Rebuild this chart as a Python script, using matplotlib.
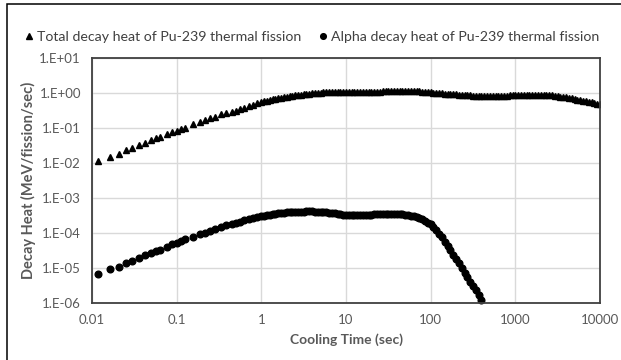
import matplotlib
matplotlib.use("Agg")
import matplotlib.pyplot as plt
from matplotlib.patches import Rectangle

# Cooling times (sec)
times = [0.0117, 0.0162, 0.0207, 0.025, 0.0294, 0.0362, 0.0427, 0.050, 0.057, 0.064,
         0.0775, 0.0885, 0.101, 0.114, 0.127, 0.158, 0.188, 0.215, 0.248, 0.283,
         0.335, 0.383,
         0.447, 0.501, 0.562, 0.631, 0.708, 0.794, 0.891,
         1.0, 1.08, 1.166, 1.259, 1.359, 1.468, 1.585, 1.711, 1.848, 1.995,
         2.154, 2.326, 2.512, 2.712, 2.929, 3.162, 3.415, 3.687, 3.981, 4.299,
         4.642, 5.012, 5.412, 5.843, 6.31, 6.813, 7.356, 7.943, 8.577, 9.261,
         10.0, 10.8, 11.66, 12.59, 13.59, 14.68, 15.85, 17.11, 18.48, 19.95,
         21.54, 23.26, 25.12, 27.12, 29.29, 31.62, 34.15, 36.87, 39.81, 42.99,
         46.42, 50.12, 54.12, 58.43, 63.1, 68.13, 73.56, 79.43, 85.77, 92.61,
         100, 108, 116.6, 125.9, 135.9, 146.8, 158.5, 171.1, 184.8, 199.5,
         215.4, 232.6, 251.2, 271.2, 292.9, 316.2, 341.5, 368.7, 398.1, 429.9,
         464.2, 501.2, 541.2, 584.3, 631, 681.3, 735.6, 794.3, 857.7, 926.1,
         1000, 1080, 1166, 1259, 1359, 1468, 1585, 1711, 1848, 1995,
         2154, 2326, 2512, 2712, 2929, 3162, 3415, 3687, 3981, 4299,
         4642, 5012, 5412, 5843, 6310, 6813, 7356, 7943, 8577, 9261,
         10000]

# Total decay heat (MeV/fission/sec)
total_heat = [0.0110, 0.0143, 0.018, 0.0226, 0.0258, 0.032, 0.038, 0.0437, 0.050, 0.055,
              0.065, 0.074, 0.080, 0.092, 0.100, 0.128, 0.146, 0.163, 0.186, 0.206,
              0.240, 0.263,
              0.29, 0.31, 0.34, 0.37, 0.41, 0.45, 0.50,
              0.54, 0.565, 0.59, 0.62, 0.645, 0.67, 0.70, 0.72, 0.745, 0.78,
              0.80, 0.82, 0.84, 0.86, 0.88, 0.90, 0.92, 0.94, 0.96, 0.975,
              0.99, 1.01, 1.02, 1.03, 1.04, 1.045, 1.05, 1.06, 1.065, 1.07,
              1.07, 1.075, 1.08, 1.08, 1.08, 1.08, 1.08, 1.08, 1.08, 1.08,
              1.08, 1.08, 1.085, 1.09, 1.095, 1.10, 1.105, 1.11, 1.115, 1.12,
              1.125, 1.13, 1.13, 1.125, 1.12, 1.11, 1.10, 1.08, 1.065, 1.05,
              1.03, 1.01, 0.995, 0.98, 0.965, 0.95, 0.94, 0.925, 0.91, 0.90,
              0.885, 0.87, 0.86, 0.85, 0.84, 0.83, 0.82, 0.815, 0.81, 0.805,
              0.80, 0.80, 0.80, 0.805, 0.81, 0.815, 0.82, 0.83, 0.84, 0.85,
              0.86, 0.87, 0.875, 0.88, 0.885, 0.89, 0.89, 0.89, 0.885, 0.88,
              0.875, 0.865, 0.85, 0.835, 0.82, 0.80, 0.78, 0.76, 0.74, 0.72,
              0.69, 0.66, 0.64, 0.615, 0.59, 0.57, 0.55, 0.53, 0.51, 0.49,
              0.47]

# Alpha decay heat (MeV/fission/sec)
alpha_heat = [6.6e-6, 9.2e-6, 1.1e-5, 1.39e-5, 1.62e-5, 1.93e-5, 2.3e-5, 2.7e-5, 3.0e-5, 3.36e-5,
              4.0e-5, 4.7e-5, 5.2e-5, 5.9e-5, 6.6e-5, 7.7e-5, 9.2e-5, 1.02e-4, 1.17e-4, 1.28e-4,
              1.43e-4, 1.63e-4,
              1.8e-4, 1.95e-4, 2.1e-4, 2.3e-4, 2.5e-4, 2.7e-4, 2.85e-4,
              3.0e-4, 3.1e-4, 3.2e-4, 3.3e-4, 3.4e-4, 3.5e-4, 3.6e-4, 3.7e-4, 3.78e-4, 3.85e-4,
              3.9e-4, 3.95e-4, 4.0e-4, 4.03e-4, 4.06e-4, 4.08e-4, 4.1e-4, 4.1e-4, 4.1e-4, 4.08e-4,
              4.05e-4, 4.0e-4, 3.95e-4, 3.88e-4, 3.8e-4, 3.7e-4, 3.6e-4, 3.5e-4, 3.42e-4, 3.35e-4,
              3.3e-4, 3.26e-4, 3.23e-4, 3.2e-4, 3.2e-4, 3.2e-4, 3.22e-4, 3.25e-4, 3.3e-4, 3.35e-4,
              3.4e-4, 3.45e-4, 3.5e-4, 3.53e-4, 3.55e-4, 3.56e-4, 3.56e-4, 3.55e-4, 3.52e-4, 3.48e-4,
              3.42e-4, 3.35e-4, 3.25e-4, 3.12e-4, 3.0e-4, 2.85e-4, 2.65e-4, 2.45e-4, 2.22e-4, 1.98e-4,
              1.75e-4, 1.5e-4, 1.25e-4, 9.5e-5, 7.5e-5, 5.6e-5, 4.2e-5, 3.2e-5, 2.4e-5, 1.8e-5,
              1.35e-5, 1.0e-5, 7.3e-6, 5.5e-6, 4.1e-6, 3.0e-6, 2.3e-6, 1.7e-6, 1.2e-6]
alpha_times = times[:len(alpha_heat)]

x_ticks = [0.01, 0.1, 1, 10, 100, 1000, 10000]
x_labels = ["0.01", "0.1", "1", "10", "100", "1000", "10000"]
y_ticks = [1e-6, 1e-5, 1e-4, 1e-3, 1e-2, 1e-1, 1e0, 1e1]
y_labels = ["1.E-06", "1.E-05", "1.E-04", "1.E-03", "1.E-02", "1.E-01", "1.E+00", "1.E+01"]

plt.rcParams['font.family'] = ['Lato', 'DejaVu Sans']

fig = plt.figure(figsize=(6.21, 3.60), dpi=100)
ax = fig.add_axes([92/621, 1 - 303/360, (600 - 92)/621, (303 - 57.7)/360])

ax.plot(times, total_heat, linestyle='none', marker='^', ms=4.8, color='black',
        label='Total decay heat of Pu-239 thermal fission', clip_on=True)
ax.plot(alpha_times, alpha_heat, linestyle='none', marker='o', ms=4.8, color='black',
        label='Alpha decay heat of Pu-239 thermal fission', clip_on=False)

ax.set_xscale('log')
ax.set_yscale('log')
ax.set_xlim(0.01, 10000)
ax.set_ylim(1e-6, 10)
ax.set_xticks(x_ticks)
ax.set_xticklabels(x_labels)
ax.set_yticks(y_ticks)
ax.set_yticklabels(y_labels)
ax.minorticks_off()
ax.tick_params(axis='both', length=0, labelsize=9.5, labelcolor='#595959', pad=8)
ax.grid(True, color='#d9d9d9', linewidth=1)
ax.set_axisbelow(True)
for s in ax.spines.values():
    s.set_color('#404040')
    s.set_linewidth(1.3)

ax.set_xlabel('Cooling Time (sec)', fontsize=10, fontweight='bold', color='#595959', labelpad=5)
ax.set_ylabel('Decay Heat (MeV/fission/sec)', fontsize=10.5, fontweight='bold', color='#595959', labelpad=2)

fig.legend(loc='center', bbox_to_anchor=(0.5, 1 - 37/360), ncol=2, frameon=False,
           fontsize=10.2, handletextpad=0.1, columnspacing=1.0, markerscale=0.85,
           labelcolor='#404040', handlelength=1.0)

fig.add_artist(Rectangle((7/621, -0.05), 1.1, 1.05 - 4/360, transform=fig.transFigure,
                         fill=False, edgecolor='black', linewidth=1.1))

fig.savefig('out.png', dpi=100)
